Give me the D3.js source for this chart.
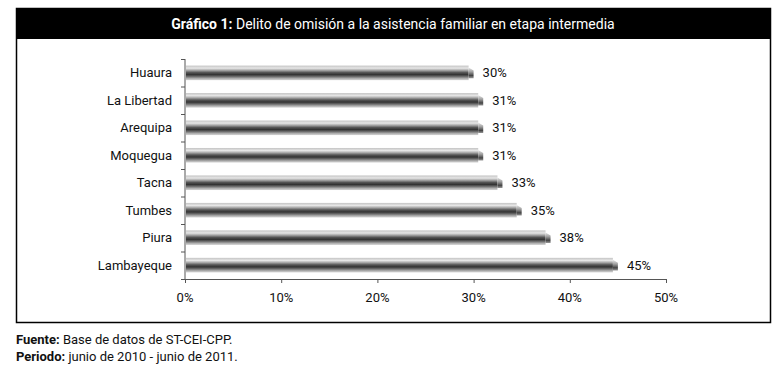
<!DOCTYPE html>
<html>
<head>
<meta charset="utf-8">
<script src="https://cdn.jsdelivr.net/npm/d3@7"></script>
<style>
  body { margin: 0; background: #fff; }
  svg { display: block; font-family: Roboto, "Liberation Sans", sans-serif; }
</style>
</head>
<body>
<svg id="chart" width="777" height="375"></svg>
<script>
// data
const regions = ["Huaura", "La Libertad", "Arequipa", "Moquegua", "Tacna", "Tumbes", "Piura", "Lambayeque"];
const shares = [30, 31, 31, 31, 33, 35, 38, 45];
const xTicks = [0, 10, 20, 30, 40, 50];

const svg = d3.select("svg#chart");
const margin = { top: 59, left: 185, right: 111, bottom: 96 };
const plotRight = svg.attr("width") - margin.right;
const plotBottom = svg.attr("height") - margin.bottom;

// frame + black header
svg.append("rect")
    .attr("x", 16.5).attr("y", 8.5)
    .attr("width", 754).attr("height", 314)
    .attr("fill", "none")
    .attr("stroke", "#000")
    .attr("stroke-width", 1.5);
svg.append("rect")
    .attr("x", 16).attr("y", 8)
    .attr("width", 755).attr("height", 31)
    .attr("fill", "#000");
let title = svg.append("text")
    .attr("x", 393).attr("y", 29)
    .attr("text-anchor", "middle")
    .attr("fill", "#fff")
    .style("font-size", "14px");
title.append("tspan").style("font-weight", "bold").text("Gráfico 1:");
title.append("tspan").text(" Delito de omisión a la asistencia familiar en etapa intermedia");

// gradient for the cylinder bars
const defs = svg.append("defs");
let grad = defs.append("linearGradient")
    .attr("id", "barGrad")
    .attr("x1", 0).attr("y1", 0).attr("x2", 0).attr("y2", 1);
[["0%", "#c4c4c4"], ["18%", "#e6e6e6"], ["32%", "#a8a8a8"], ["48%", "#555"],
 ["62%", "#333"], ["76%", "#6e6e6e"], ["90%", "#b4b4b4"], ["100%", "#d4d4d4"]]
    .forEach(([o, c]) => grad.append("stop").attr("offset", o).attr("stop-color", c));
let capGrad = defs.append("linearGradient")
    .attr("id", "capGrad")
    .attr("x1", 0).attr("y1", 0).attr("x2", 0).attr("y2", 1);
[["0%", "#e8e8e8"], ["40%", "#a0a0a0"], ["75%", "#444"], ["100%", "#999"]]
    .forEach(([o, c]) => capGrad.append("stop").attr("offset", o).attr("stop-color", c));

// scales in page coordinates, so no text sits inside a translated group
const x = d3.scaleLinear().domain([0, 50]).range([margin.left, plotRight]);
const y = d3.scaleBand().domain(regions).range([margin.top, plotBottom]).paddingInner(0.47).paddingOuter(0.24);
const yEdges = d3.scaleLinear().domain([0, regions.length]).range([margin.top, plotBottom]);

// x axis: line + ticks via axisBottom, labels drawn as plain text
let xAxis = svg.append("g")
    .attr("transform", `translate(0,${plotBottom})`)
    .call(d3.axisBottom(x).tickValues(xTicks).tickSize(4).tickFormat(""));
xAxis.select(".domain").attr("stroke", "#555");
xAxis.selectAll(".tick line").attr("stroke", "#555");
xAxis.selectAll(".tick text").remove();
svg.append("g")
    .selectAll("text")
    .data(xTicks)
    .join("text")
    .attr("x", (d) => x(d))
    .attr("y", plotBottom + 23)
    .attr("text-anchor", "middle")
    .attr("fill", "#111")
    .style("font-size", "13px")
    .text((d) => d + "%");

// y axis, ticks on band boundaries
let yAxis = svg.append("g")
    .attr("transform", `translate(${margin.left},0)`)
    .call(d3.axisLeft(yEdges).ticks(regions.length).tickSize(4).tickFormat(""));
yAxis.select(".domain").attr("stroke", "#555").attr("d", `M0,${margin.top}V${plotBottom}`);
yAxis.selectAll(".tick line").attr("stroke", "#555");
yAxis.selectAll(".tick text").remove();

svg.append("g")
    .selectAll("text")
    .data(regions)
    .join("text")
    .attr("x", margin.left - 13)
    .attr("y", (d) => y(d) + y.bandwidth() / 2 + 4.5)
    .attr("text-anchor", "end")
    .attr("fill", "#111")
    .style("font-size", "13px")
    .text((d) => d);

// bars
const bars = svg.append("g");
const capW = 5;
bars.selectAll("rect.bar")
    .data(shares)
    .join("rect")
    .attr("class", "bar")
    .attr("x", x(0) + 1)
    .attr("y", (d, i) => y(regions[i]))
    .attr("width", (d) => x(d) - x(0) - 1 - capW)
    .attr("height", y.bandwidth())
    .attr("fill", "url(#barGrad)");
bars.selectAll("path.cap")
    .data(shares)
    .join("path")
    .attr("class", "cap")
    .attr("d", (d, i) => {
        const x0 = x(d) - capW, y0 = y(regions[i]), h = y.bandwidth();
        return `M${x0},${y0 + 2}L${x0 + capW},${y0 + 5}L${x0 + capW},${y0 + h - 2}L${x0},${y0 + h - 2}Z`;
    })
    .attr("fill", "url(#capGrad)");

svg.append("g")
    .selectAll("text")
    .data(shares)
    .join("text")
    .attr("x", (d) => x(d) + 9)
    .attr("y", (d, i) => y(regions[i]) + y.bandwidth() / 2 + 4.5)
    .attr("fill", "#111")
    .style("font-size", "13px")
    .text((d) => d + "%");

// footnotes
let f1 = svg.append("text").attr("x", 16).attr("y", 344).style("font-size", "13px").attr("fill", "#111");
f1.append("tspan").style("font-weight", "bold").text("Fuente:");
f1.append("tspan").text(" Base de datos de ST-CEI-CPP.");
let f2 = svg.append("text").attr("x", 16).attr("y", 361).style("font-size", "13px").attr("fill", "#111");
f2.append("tspan").style("font-weight", "bold").text("Periodo:");
f2.append("tspan").text(" junio de 2010 - junio de 2011.");
</script>
</body>
</html>
